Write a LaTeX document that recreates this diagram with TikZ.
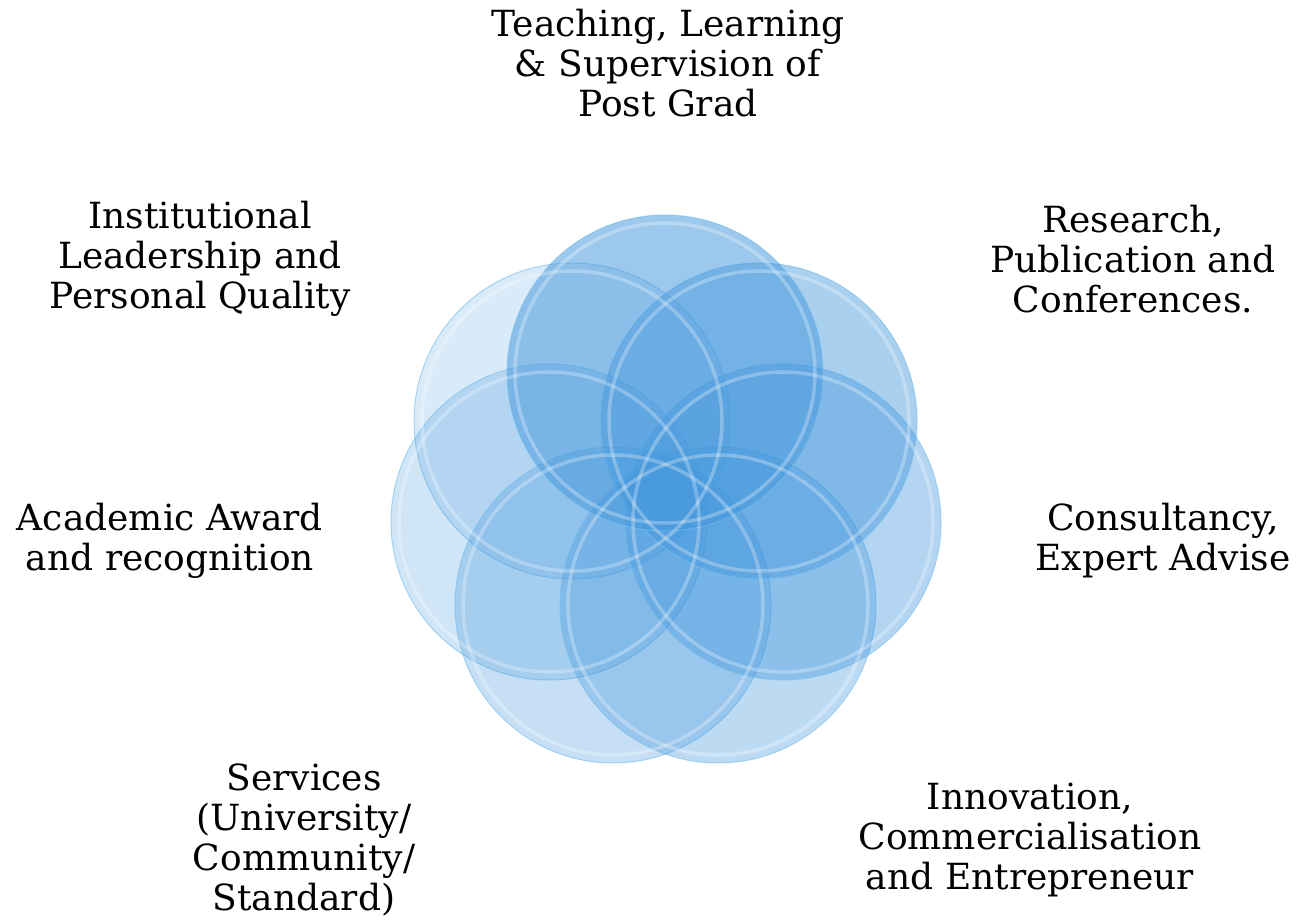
\documentclass[tikz,border=0pt]{standalone}
\usepackage{fontspec}
\setmainfont{DejaVu Serif}
\definecolor{petalblue}{RGB}{66,150,220}
\definecolor{petalrim}{RGB}{120,190,235}
\begin{document}
\begin{tikzpicture}[x=1pt,y=-1pt,
  petal/.style={circle, minimum size=316pt, inner sep=0pt, fill=petalblue, draw=petalrim, line width=1pt, draw opacity=0.6},
  shine/.style={draw=white, line width=3.5pt, opacity=0.28},
  lbl/.style={align=center, inner sep=0pt, font=\fontsize{36}{40}\selectfont}]
\useasboundingbox (0,0) rectangle (1307,923);
% petals, clockwise from the top
\node[petal, fill opacity=0.20] (p7) at (572,421) {};
\node[petal, fill opacity=0.25] (p6) at (549,522) {};
\node[petal, fill opacity=0.30] (p5) at (613,605) {};
\node[petal, fill opacity=0.35] (p4) at (718,605) {};
\node[petal, fill opacity=0.40] (p3) at (783,522) {};
\node[petal, fill opacity=0.45] (p2) at (759,421) {};
\node[petal, fill opacity=0.52] (p1) at (665,373) {};
\foreach \p in {p1,p2,p3,p4,p5,p6,p7}
  \draw[shine] (\p.center) circle (150);
% labels
\node[lbl] (t1) at (668,63) {Teaching, Learning\\\& Supervision of\\Post Grad};
\node[lbl] (t2) at (1133,259) {Research,\\Publication and\\Conferences.};
\node[lbl] (t3) at (1163,541) {Consultancy,\\Expert Advise};
\node[lbl] (t4) at (1030,840) {Innovation,\\Commercialisation\\and Entrepreneur};
\node[lbl] (t5) at (304,840) {Services\\(University/\\Community/\\Standard)};
\node[lbl] (t6) at (170,541) {Academic Award\\and recognition};
\node[lbl] (t7) at (200,259) {Institutional\\Leadership and\\Personal Quality};
\end{tikzpicture}
\end{document}
